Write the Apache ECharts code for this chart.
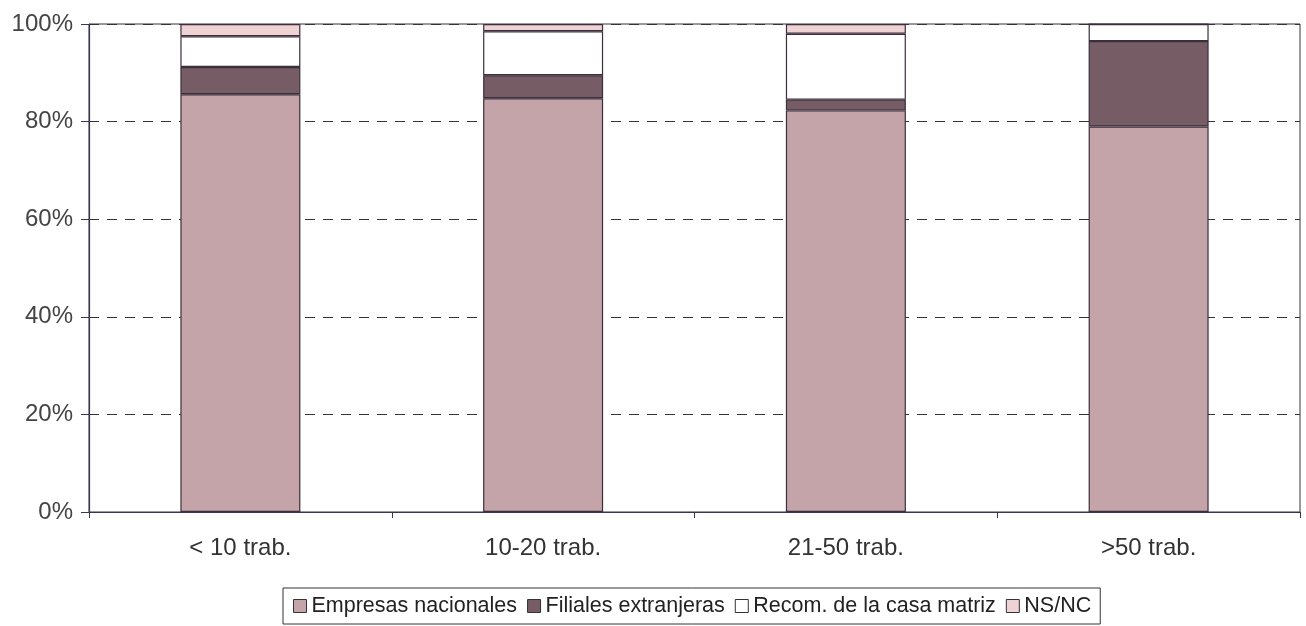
<!DOCTYPE html>
<html><head><meta charset="utf-8">
<script src="https://cdn.jsdelivr.net/npm/echarts@6/dist/echarts.min.js"></script>
<style>html,body{margin:0;padding:0;background:#fff}#c{width:1306px;height:626px}</style>
</head><body><div id="c"></div>
<script>
const categories = ['< 10 trab.', '10-20 trab.', '21-50 trab.', '>50 trab.'];
const empresas = [85.6, 84.8, 82.3, 79.0];
const filiales = [5.6, 4.7, 2.2, 17.5];
const recom = [6.3, 9.0, 13.5, 3.5];
const nsnc = [2.5, 1.5, 2.0, 0];
const yTicks = [0, 20, 40, 60, 80, 100];

const chart = echarts.init(document.getElementById('c'));
const edge = '#3b2f3d';
function ser(name, data, color) {
  return { name, type: 'bar', stack: 't', data, barWidth: 120,
    itemStyle: { color, borderColor: edge, borderWidth: 1.2 } };
}
chart.setOption({
  animation: false,
  textStyle: { fontFamily: 'Liberation Sans, Arial, sans-serif' },
  grid: { left: 89, right: 6, top: 24, bottom: 114, show: true, borderColor: '#3b2f3d', borderWidth: 1, backgroundColor: 'transparent' },
  legend: {
    bottom: 2, left: 283, itemWidth: 13, itemHeight: 13, itemGap: 10,
    borderColor: '#333', borderWidth: 1, padding: [7, 9, 7, 10],
    textStyle: { fontSize: 21.5, color: '#222', fontFamily: 'Liberation Sans, Arial, sans-serif' },
    icon: 'rect',
    data: [
      { name: 'Empresas nacionales', itemStyle: { borderColor: '#333', borderWidth: 1 } },
      { name: 'Filiales extranjeras', itemStyle: { borderColor: '#333', borderWidth: 1 } },
      { name: 'Recom. de la casa matriz', itemStyle: { borderColor: '#333', borderWidth: 1 } },
      { name: 'NS/NC', itemStyle: { borderColor: '#333', borderWidth: 1 } }
    ]
  },
  xAxis: {
    type: 'category', data: categories,
    axisLine: { lineStyle: { color: '#3b3550', width: 1.2 } },
    axisTick: { show: true, length: 6, lineStyle: { color: '#3b3550' } },
    axisLabel: { fontSize: 24, color: '#333', margin: 24 }
  },
  yAxis: {
    type: 'value', min: yTicks[0], max: yTicks[yTicks.length - 1], interval: 20,
    axisLine: { show: true, lineStyle: { color: '#3b3550', width: 1.2 } },
    axisTick: { show: true, length: 8, lineStyle: { color: '#3b3550' } },
    axisLabel: { fontSize: 24, color: '#444', margin: 16, formatter: v => v + '%' },
    splitLine: { show: true, lineStyle: { color: '#333', type: [10, 8], width: 1.2 } }
  },
  series: [
    ser('Empresas nacionales', empresas, '#c5a4a9'),
    ser('Filiales extranjeras', filiales, '#765c65'),
    ser('Recom. de la casa matriz', recom, '#ffffff'),
    ser('NS/NC', nsnc, '#efd2d4')
  ]
});
</script></body></html>
